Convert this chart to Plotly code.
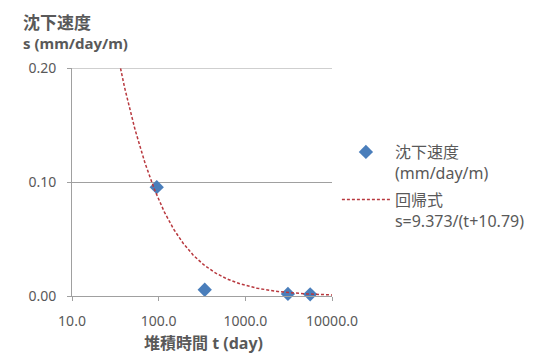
import numpy as np
import plotly.graph_objects as go

# Measured settlement rate
t_days = [95, 340, 3100, 5600]
s_rate = [0.0955, 0.0055, 0.0018, 0.0015]

# Regression: s = a / (t + b)
coef_a = 9.373
coef_b = 10.79

x_ticks = [10, 100, 1000, 10000]
x_tick_labels = ["10.0", "100.0", "1000.0", "10000.0"]
y_ticks = [0.0, 0.10, 0.20]
y_tick_labels = ["0.00", "0.10", "0.20"]

t_fit = np.logspace(np.log10(30), 4, 300)
s_fit = coef_a / (t_fit + coef_b)

font_family = "Noto Sans, Noto Sans CJK JP, sans-serif"
grid_col = "#A0A0A0"
text_col = "#595959"

W, H = 542, 354
ML, MR, MT, MB = 72, 205, 68, 58
plot_w = W - ML - MR
plot_h = H - MT - MB


def px_to_paper(px_x, px_y):
    return (px_x - ML) / plot_w, 1 - (px_y - MT) / plot_h


fig = go.Figure()
fig.add_trace(go.Scatter(
    x=t_days, y=s_rate, mode="markers", name="沈下速度<br>(mm/day/m)",
    legendgroup="obs",
    marker=dict(symbol="diamond", size=11, color="#4A7EBB"),
    cliponaxis=False,
))
fig.add_trace(go.Scatter(
    x=t_fit, y=s_fit, mode="lines", name="回帰式<br>s=9.373/(t+10.79)",
    legendgroup="fit",
    line=dict(color="#B8383E", width=1.5, dash="3px,2px"),
))

# top gridline at 0.20
fig.add_shape(type="line", xref="paper", yref="y", x0=0, x1=1, y0=0.2, y1=0.2,
              line=dict(color=grid_col, width=1), layer="below")

lx, ly = px_to_paper(342, 135)
tx1, ty1 = px_to_paper(20, 22)
tx2, ty2 = px_to_paper(20, 43)
bx, by = px_to_paper(206, 343)

fig.update_layout(
    width=W, height=H,
    margin=dict(l=ML, r=MR, t=MT, b=MB),
    paper_bgcolor="white", plot_bgcolor="white",
    font=dict(family=font_family, size=14, color=text_col),
    showlegend=True,
    legend=dict(x=lx, y=ly, xanchor="left", yanchor="top", valign="top",
                font=dict(size=16, color=text_col), tracegroupgap=3,
                itemwidth=48, bgcolor="rgba(0,0,0,0)"),
    xaxis=dict(type="log", range=[1, 4], tickvals=x_ticks, ticktext=x_tick_labels,
               showgrid=False, showline=True, linecolor=grid_col, linewidth=1,
               ticks="outside", ticklen=4, tickcolor=grid_col, ticklabelstandoff=8,
               tickfont=dict(size=14, color=text_col), zeroline=False),
    yaxis=dict(range=[0, 0.2], tickvals=y_ticks, ticktext=y_tick_labels,
               showgrid=True, gridcolor=grid_col, gridwidth=1,
               showline=True, linecolor=grid_col, linewidth=1,
               ticks="outside", ticklen=4, tickcolor=grid_col, ticklabelstandoff=8,
               tickfont=dict(size=14, color=text_col), zeroline=False),
    annotations=[
        dict(text="<b>沈下速度</b>", x=tx1, y=ty1, xref="paper", yref="paper",
             showarrow=False, xanchor="left", yanchor="middle",
             font=dict(size=17, color=text_col)),
        dict(text="<b>s (mm/day/m)</b>", x=tx2, y=ty2, xref="paper", yref="paper",
             showarrow=False, xanchor="left", yanchor="middle",
             font=dict(size=15, color=text_col)),
        dict(text="<b>堆積時間 t (day)</b>", x=bx, y=by, xref="paper", yref="paper",
             showarrow=False, xanchor="center", yanchor="middle",
             font=dict(size=16, color=text_col)),
    ],
)

fig.write_html("out.html")
